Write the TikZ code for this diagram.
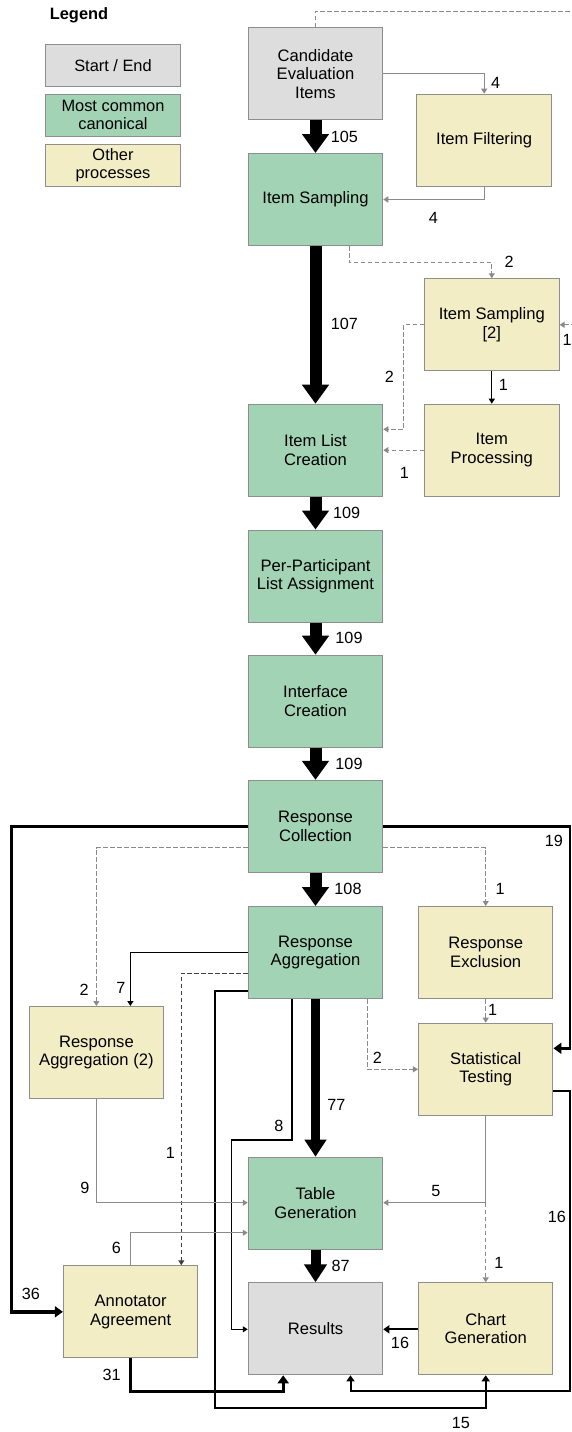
\documentclass[tikz,border=0pt]{standalone}
\usepackage{fontspec}
\setmainfont{Liberation Sans}
\usetikzlibrary{arrows.meta}
\definecolor{cgreen}{HTML}{A2D3B5}
\definecolor{cgray}{HTML}{DDDDDD}
\definecolor{cyellow}{HTML}{F2EDC5}
\definecolor{cborder}{HTML}{8E8E8E}
\definecolor{cline}{HTML}{8A8A8A}
\begin{document}
\begin{tikzpicture}[x=1pt,y=-1pt,
  every node/.style={font=\fontsize{16.6}{18.4}\selectfont},
  box/.style={draw=cborder, line width=1pt, minimum width=134.5pt, minimum height=92pt, inner sep=0pt, align=center},
  startend/.style={box, fill=cgray},
  canon/.style={box, fill=cgreen},
  other/.style={box, fill=cyellow},
  lbl/.style={inner sep=0pt, font=\fontsize{16.2}{18.4}\selectfont},
  bigflow/.style={line width=12pt, -{Triangle[width=26pt,length=19pt]}},
  midflow/.style={line width=9.5pt, -{Triangle[width=21pt,length=17pt]}},
  greyflow/.style={line width=1pt, draw=cline, -{Triangle[width=6pt,length=5pt]}},
  blackflow/.style={line width=1.2pt, -{Triangle[width=6pt,length=5pt]}},
  dashflow/.style={line width=1pt, draw=cline, dash pattern=on 4.5pt off 2.5pt, -{Triangle[width=6pt,length=5pt]}},
  w2flow/.style={line width=2pt, -{Triangle[width=8pt,length=6pt]}},
  w3flow/.style={line width=3.2pt, -{Triangle[width=11pt,length=8pt]}},
]
\useasboundingbox (0,0) rectangle (572,1432);
\clip (0,0) rectangle (572,1432);

% legend
\node[font=\fontsize{16.4}{18.4}\selectfont\bfseries, inner sep=0pt] (legtitle) at (79,15.7) {Legend};
\node[startend, minimum height=41.7pt, font=\fontsize{16.4}{18.4}\selectfont] (legse) at (113,65.2) {Start / End};
\node[canon, minimum height=41.7pt, font=\fontsize{16.4}{18.4}\selectfont] (legcan) at (113,115.2) {Most common\\canonical};
\node[other, minimum height=41.7pt, font=\fontsize{16.4}{18.4}\selectfont] (legoth) at (113,165.5) {Other\\processes};

% boxes
\node[startend] (cand) at (315.5,73.8) {Candidate\\Evaluation\\Items};
\node[canon] (samp) at (315.5,199.5) {Item Sampling};
\node[other] (filt) at (484.2,140.2) {Item Filtering};
\node[other] (samp2) at (491.8,324.8) {Item Sampling\\{[2]}};
\node[canon] (list) at (315.5,450.2) {Item List\\Creation};
\node[other] (proc) at (491.8,450.2) {Item\\Processing};
\node[canon] (ppl) at (315.5,576) {Per-Participant\\List Assignment};
\node[canon] (intf) at (315.5,701.2) {Interface\\Creation};
\node[canon] (rcol) at (315.5,826.3) {Response\\Collection};
\node[canon] (ragg) at (315.5,952.5) {Response\\Aggregation};
\node[other] (rexc) at (485.7,952.5) {Response\\Exclusion};
\node[other] (ragg2) at (96.4,1052.5) {Response\\Aggregation (2)};
\node[other] (stat) at (485.7,1069.2) {Statistical\\Testing};
\node[canon] (tgen) at (315.5,1203.2) {Table\\Generation};
\node[other] (ann) at (130.6,1311.8) {Annotator\\Agreement};
\node[startend] (res) at (315.5,1328.8) {Results};
\node[other] (chart) at (485.7,1328.8) {Chart\\Generation};

% connectors
\draw[dashflow] (cand.north) -- (315.5,11) -- (578,11) |- (samp2.east);
\draw[greyflow] (cand.east |- 0,73.3) -| (filt.north);
\draw[greyflow] (filt.south) |- (samp.east);
\draw[bigflow] (cand.south) -- (samp.north);
\draw[dashflow] (samp.south -| 349,0) -- (349,262.3) -| (samp2.north);
\draw[bigflow] (samp.south) -- (list.north);
\draw[dashflow] (samp2.west) -- (403.7,324.8) |- (list.east |- 0,429.3);
\draw[blackflow, line width=1pt] (samp2.south) -- (proc.north);
\draw[dashflow] (proc.west) -- (list.east);
\draw[bigflow] (list.south) -- (ppl.north);
\draw[bigflow] (ppl.south) -- (intf.north);
\draw[bigflow] (intf.south) -- (rcol.north);
\draw[w3flow, line width=3.5pt] (rcol.west |- 0,826.7) -- (11.7,826.7) |- (ann.west);
\draw[w3flow, line width=2.6pt] (rcol.east |- 0,826.7) -- (570,826.7) |- (stat.east |- 0,1048.3);
\draw[dashflow] (rcol.west |- 0,847.7) -| (ragg2.north);
\draw[dashflow] (rcol.east |- 0,847.7) -| (rexc.north);
\draw[bigflow] (rcol.south) -- (ragg.north);
\draw[blackflow] (ragg.west |- 0,952.3) -| (ragg2.north -| 130.4,0);
\draw[dashflow, draw=black!75] (ragg.west |- 0,973.3) -| (ann.north -| 181.3,0);
\draw[w2flow] (ragg.west |- 0,990.7) -- (215,990.7) -- (215,1408.3) -| (chart.south);
\draw[blackflow] (ragg.south -| 292,0) -- (292,1140) -- (231.5,1140) |- (res.west |- 0,1329.3);
\draw[midflow] (ragg.south) -- (tgen.north);
\draw[dashflow] (ragg.south -| 367.4,0) |- (stat.west |- 0,1069.3);
\draw[dashflow] (rexc.south) -- (stat.north);
\draw[w2flow] (stat.east |- 0,1090.7) -- (570.3,1090.7) -- (570.3,1391) -| (res.south -| 350.5,0);
\coordinate (stsplit) at (stat.south |- 0,1202.7);
\draw[greyflow, -] (stat.south) -- (stsplit);
\draw[greyflow] (stsplit) -- (tgen.east |- stsplit);
\draw[dashflow] (stsplit) -- (chart.north);
\draw[greyflow, line width=1.3pt] (ragg2.south) |- (tgen.west |- 0,1202.7);
\draw[greyflow] (ann.north) |- (tgen.west |- 0,1232.7);
\draw[midflow, line width=10pt, -{Triangle[width=22pt,length=18pt]}] (tgen.south) -- (res.north);
\draw[w2flow] (chart.west |- 0,1329.3) -- (res.east |- 0,1329.3);
\draw[w3flow] (ann.south) -- (130.6,1391.7) -| (res.south -| 283.2,0);

% labels
\node[lbl] (l01) at (567,340) {1};
\node[lbl] (l02) at (495.7,82.7) {4};
\node[lbl] (l03) at (433.3,218.3) {4};
\node[lbl] (l04) at (344.3,136.7) {105};
\node[lbl] (l05) at (509,261.7) {2};
\node[lbl] (l06) at (344.3,324.3) {107};
\node[lbl] (l07) at (389.3,376.7) {2};
\node[lbl] (l08) at (503.3,385) {1};
\node[lbl] (l09) at (404.3,473.3) {1};
\node[lbl] (l10) at (346.7,512.7) {109};
\node[lbl] (l11) at (349,638.3) {109};
\node[lbl] (l12) at (349,764) {109};
\node[lbl] (l13) at (31,1294) {36};
\node[lbl] (l14) at (553.8,841.3) {19};
\node[lbl] (l15) at (84.2,990) {2};
\node[lbl] (l16) at (500,889.3) {1};
\node[lbl] (l17) at (348,889.3) {108};
\node[lbl] (l18) at (120.9,988.3) {7};
\node[lbl] (l19) at (170.3,1153.3) {1};
\node[lbl] (l20) at (460.8,1422.7) {15};
\node[lbl] (l21) at (279,1126) {8};
\node[lbl] (l22) at (336.3,1105) {77};
\node[lbl] (l23) at (377.3,1058.3) {2};
\node[lbl] (l24) at (492.7,1010) {1};
\node[lbl] (l25) at (556.8,1216.7) {16};
\node[lbl] (l26) at (435.9,1190.7) {5};
\node[lbl] (l27) at (498.9,1262.7) {1};
\node[lbl] (l28) at (85,1188.3) {9};
\node[lbl] (l29) at (116.5,1248.3) {6};
\node[lbl] (l30) at (340.7,1265.7) {87};
\node[lbl] (l31) at (400,1342.7) {16};
\node[lbl] (l32) at (111.7,1375) {31};
\end{tikzpicture}
\end{document}
